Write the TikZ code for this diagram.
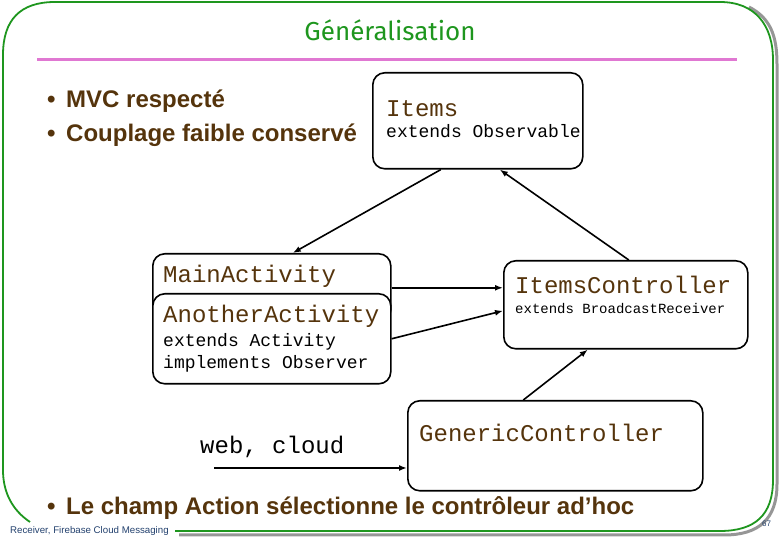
\documentclass[tikz,border=0pt]{standalone}
\usepackage{fontspec}
\setmainfont{Liberation Sans}
\newfontfamily\codefont{Liberation Mono}
\newfontfamily\titlefont{Fira Sans}
\usetikzlibrary{arrows.meta}

\definecolor{framegreen}{RGB}{30,150,30}
\definecolor{shadowgray}{RGB}{150,150,150}
\definecolor{rulepink}{RGB}{224,120,210}
\definecolor{codebrown}{RGB}{85,52,12}
\definecolor{footblue}{RGB}{35,65,110}

\newcommand{\bul}{\makebox[19pt][l]{\textbullet}}

\tikzset{
  classbox/.style={draw, line width=1.6pt, rounded corners=12pt, fill=white, anchor=north west, inner sep=0pt},
  clsname/.style={anchor=base west, inner sep=0pt, text=codebrown, font=\codefont\fontsize{24}{24}\selectfont},
  clsinfo/.style={anchor=base west, inner sep=0pt, font=\codefont\fontsize{18}{18}\selectfont},
  point/.style={anchor=base west, inner sep=0pt, text=codebrown, font=\bfseries\fontsize{24}{24}\selectfont},
  assoc/.style={-{Latex[length=8pt,width=6pt]}, line width=1.6pt},
}

\begin{document}
\begin{tikzpicture}[x=1pt,y=1pt]
    \useasboundingbox (0,0) rectangle (780,540);

    % slide frame
    \draw[shadowgray, line width=3pt] (749,533) .. controls (770,522) and (777,505) .. (777,476)
        -- (777,56) .. controls (777,21) and (759,5) .. (724,5) -- (179,5);
    \draw[framegreen, line width=1.8pt] (30,18) .. controls (12,30) and (3,48) .. (3,70)
        -- (3,485) .. controls (3,520) and (20,538) .. (55,538) -- (720,538)
        .. controls (755,538) and (773,515) .. (773,480) -- (773,60)
        .. controls (773,25) and (755,9) .. (720,9) -- (175,9);

    % title
    \node[text=framegreen, font=\titlefont\fontsize{26}{26}\selectfont] (title) at (390,510) {Généralisation};
    \draw[rulepink, line width=3pt] (37,480) -- (737,480);

    % bullets
    \node[point] (point1) at (47,432) {\bul MVC respecté};
    \node[point] (point2) at (47,398) {\bul Couplage faible conservé};
    \node[point] (point3) at (47,25) {\bul Le champ Action sélectionne le contrôleur ad’hoc};

    % classes
    \node[classbox, minimum width=210pt, minimum height=96pt] (items) at (372,468) {};
    \node[clsname] (itemsname) at (386,423) {Items};
    \node[clsinfo] (itemsext) at (386,402) {extends Observable};

    \node[classbox, minimum width=238pt, minimum height=68pt] (main) at (152,287) {};
    \node[clsname] (mainname) at (163,257) {MainActivity};

    \node[classbox, minimum width=238pt, minimum height=90pt] (another) at (152,247) {};
    \node[clsname] (anothername) at (163,217) {AnotherActivity};
    \node[clsinfo] (anotherext) at (163,193) {extends Activity};
    \node[clsinfo] (anotherimpl) at (163,171) {implements Observer};

    \node[classbox, minimum width=244pt, minimum height=88pt] (ctrl) at (503,280) {};
    \node[clsname] (ctrlname) at (515,246) {ItemsController};
    \node[clsinfo, font=\codefont\fontsize{14}{14}\selectfont] (ctrlext) at (515,226) {extends BroadcastReceiver};

    \node[classbox, minimum width=295pt, minimum height=90pt] (generic) at (407,140) {};
    \node[clsname] (genericname) at (419,98) {GenericController};

    \node[clsname, text=black] (web) at (200,86) {web, cloud};
    \coordinate (websrc) at (214,72);

    % connectors
    \draw[assoc] ([xshift=-37pt]items.south) -- ([xshift=21pt]main.north);
    \draw[assoc] ([xshift=3pt]ctrl.north) -- ([xshift=22pt]items.south);
    \draw[assoc] (main.east) -- (main.east -| ctrl.west);
    \draw[assoc] (another.east) -- ([yshift=-6pt]ctrl.west);
    \draw[assoc] ([xshift=-32pt]generic.north) -- ([xshift=-38pt]ctrl.south);
    \draw[assoc] (websrc) -- (websrc -| generic.west);

    % footer
    \node[anchor=base west, inner sep=0pt, text=footblue, font=\fontsize{9.7}{9.7}\selectfont] (foottext) at (10,6) {Receiver, Firebase Cloud Messaging};
    \node[anchor=base west, inner sep=0pt, text=footblue, font=\fontsize{8}{8}\selectfont] (pagenum) at (762,13) {67};
\end{tikzpicture}
\end{document}
